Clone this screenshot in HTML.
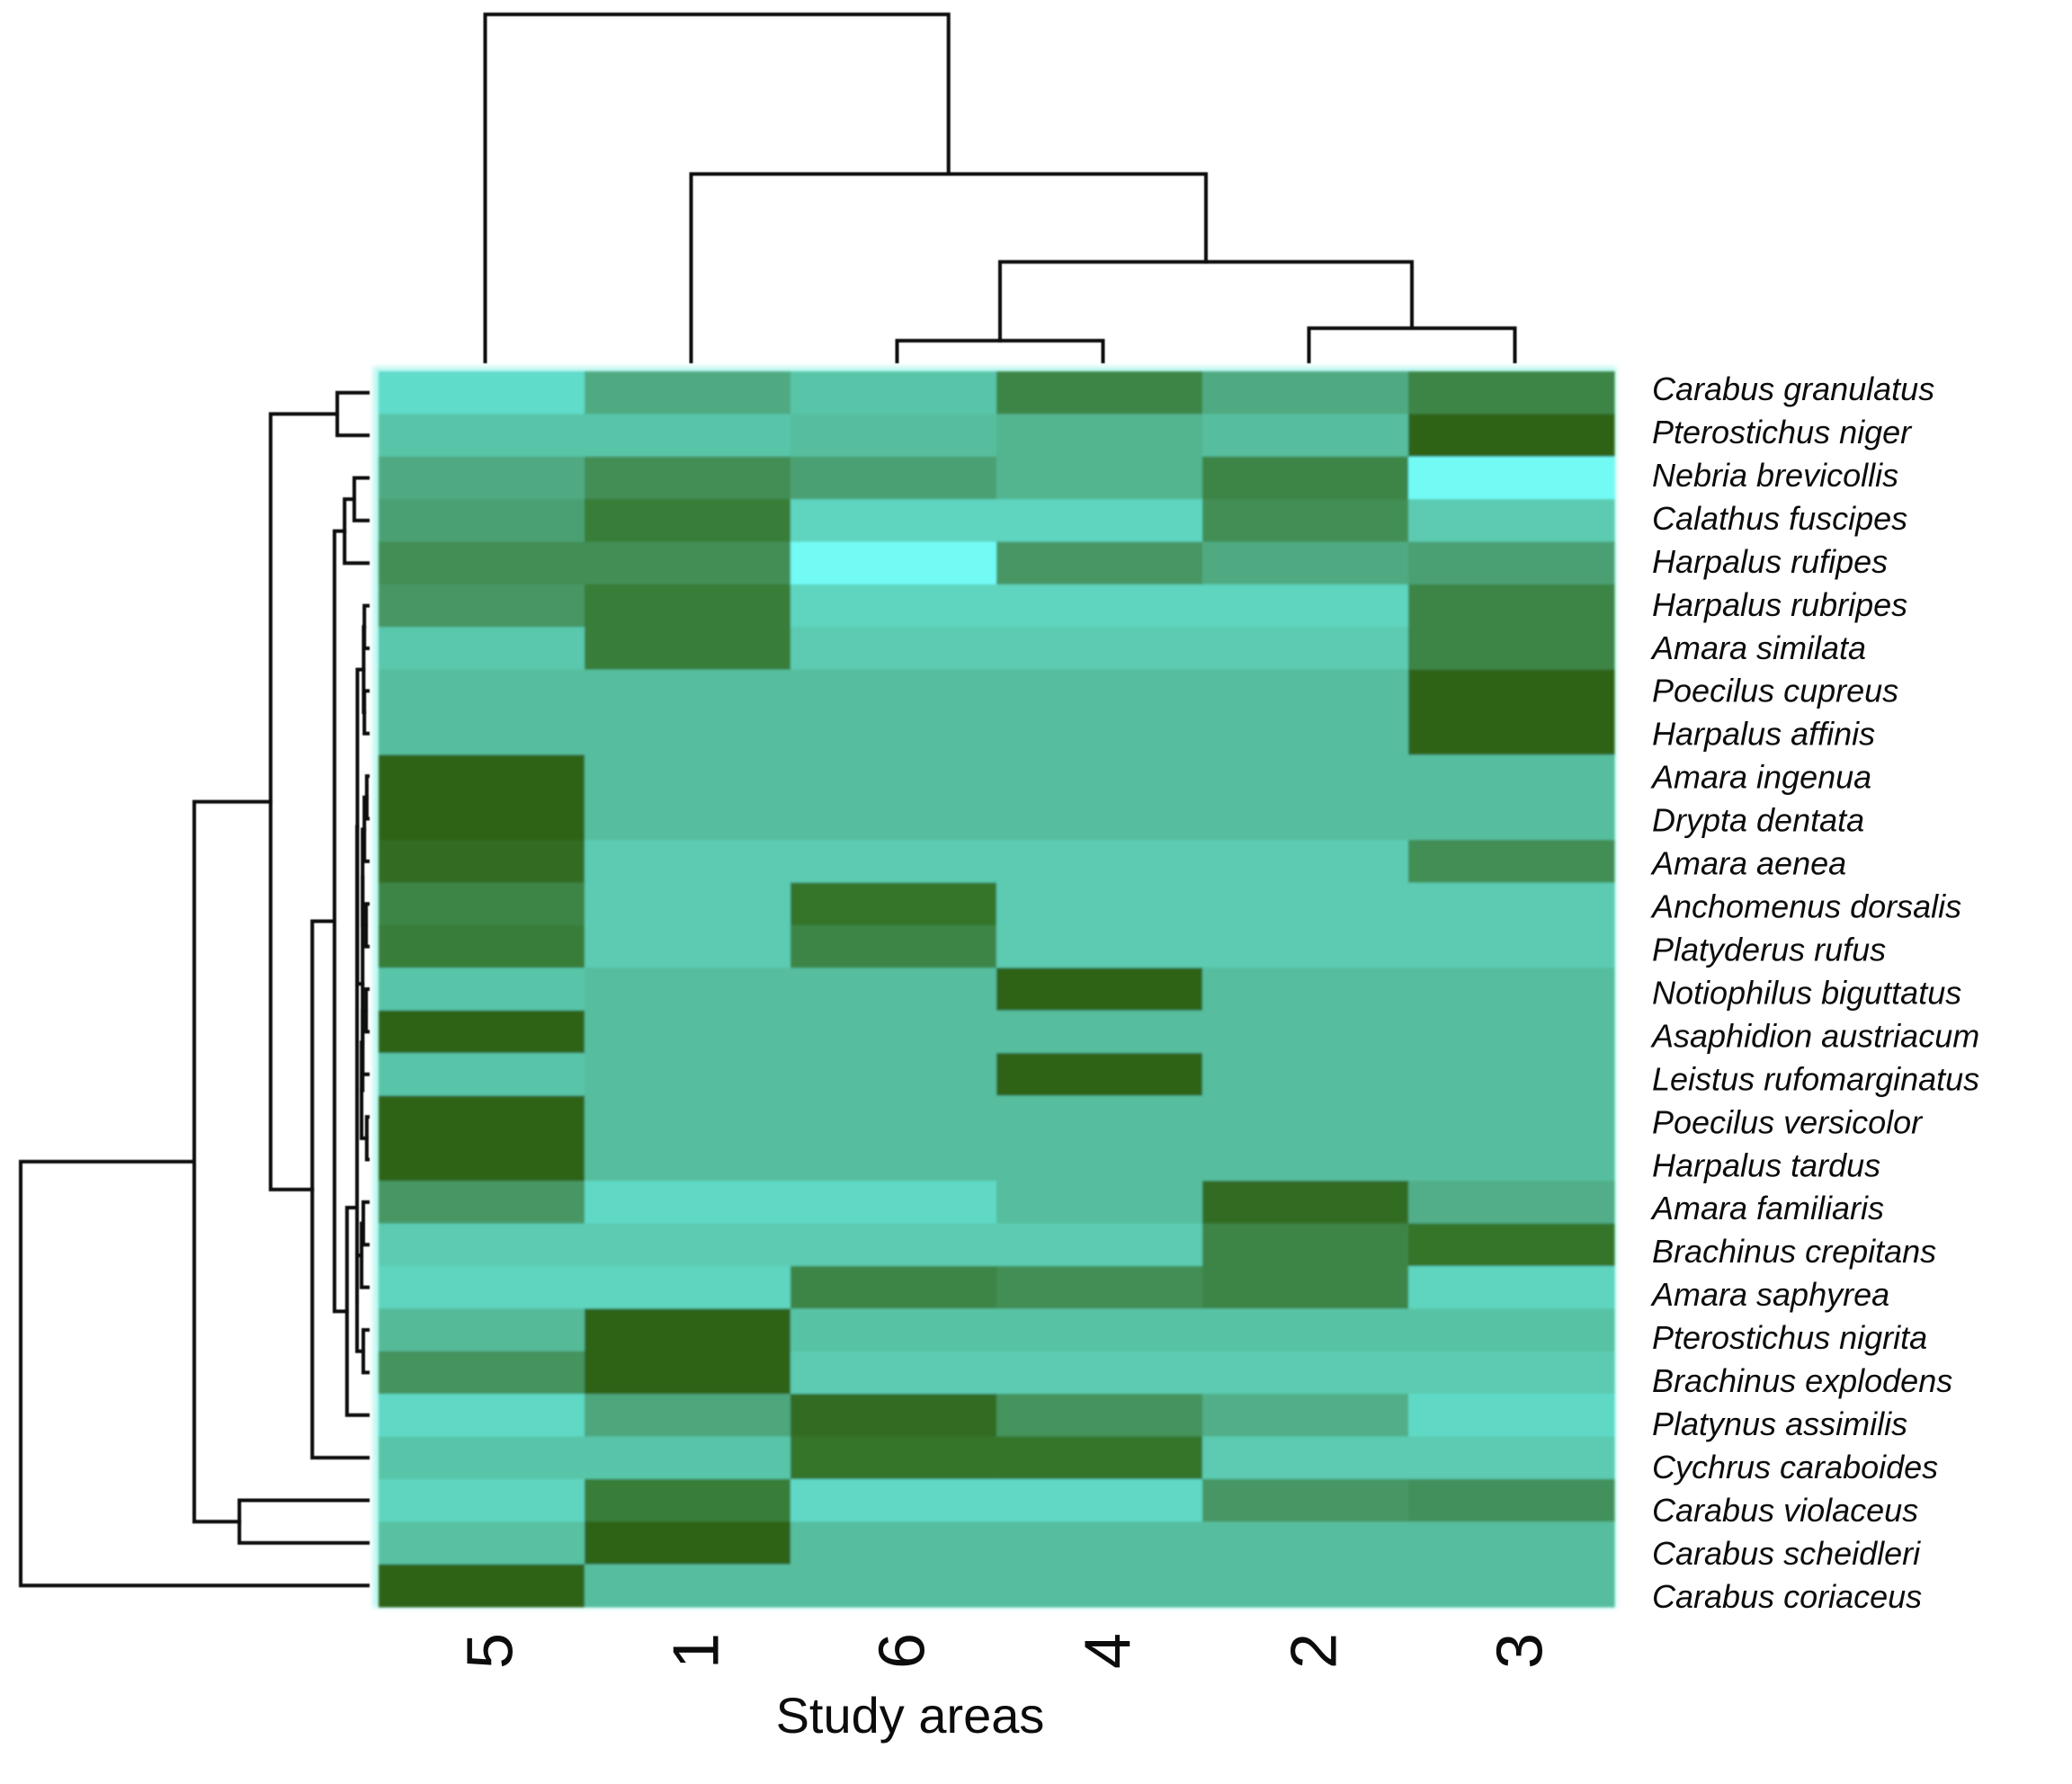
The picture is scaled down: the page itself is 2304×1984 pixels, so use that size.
<!DOCTYPE html>
<html lang="en">
<head>
<meta charset="utf-8">
<title>Carabid species heatmap by study area</title>
<style>
html,body{margin:0;padding:0;background:#fff}
svg{display:block}
text{font-family:"Liberation Sans",sans-serif;fill:#0c0c0c}
</style>
</head>
<body>
<svg id="chart" xmlns="http://www.w3.org/2000/svg" width="2304" height="1984" viewBox="0 0 2304 1984">
<defs>
<filter id="soft" x="-5%" y="-5%" width="110%" height="110%"><feGaussianBlur stdDeviation="1.2"/></filter>
<filter id="glow" x="-5%" y="-5%" width="110%" height="110%"><feGaussianBlur stdDeviation="3"/></filter>
<filter id="softLine" x="-5%" y="-5%" width="110%" height="110%"><feGaussianBlur stdDeviation="0.6"/></filter>
</defs>
<rect width="2304" height="1984" fill="#ffffff"/>
<rect x="415" y="408" width="1382" height="1380" fill="#b8f7f0" filter="url(#glow)"/>
<g id="cells" filter="url(#soft)"></g>
<g id="rowTree" filter="url(#softLine)" fill="none" stroke="#0a0a0a" stroke-width="4" stroke-linecap="square"></g>
<g id="colTree" filter="url(#softLine)" fill="none" stroke="#0a0a0a" stroke-width="4" stroke-linecap="square"></g>
<g id="rowLabels"></g>
<g id="colLabels"></g>
<text x="1012" y="1927" font-size="56" text-anchor="middle">Study areas</text>
</svg>
<script>
const studyAreas = ['5', '1', '6', '4', '2', '3'];
const species = [
  'Carabus granulatus', 'Pterostichus niger', 'Nebria brevicollis', 'Calathus fuscipes',
  'Harpalus rufipes', 'Harpalus rubripes', 'Amara similata', 'Poecilus cupreus',
  'Harpalus affinis', 'Amara ingenua', 'Drypta dentata', 'Amara aenea',
  'Anchomenus dorsalis', 'Platyderus rufus', 'Notiophilus biguttatus', 'Asaphidion austriacum',
  'Leistus rufomarginatus', 'Poecilus versicolor', 'Harpalus tardus', 'Amara familiaris',
  'Brachinus crepitans', 'Amara saphyrea', 'Pterostichus nigrita', 'Brachinus explodens',
  'Platynus assimilis', 'Cychrus caraboides', 'Carabus violaceus', 'Carabus scheidleri',
  'Carabus coriaceus'
];
const abundance = [
  [1.0, 4.0, 2.5, 6.0, 4.0, 6.0],
  [2.5, 2.5, 3.0, 3.5, 3.0, 8.0],
  [4.0, 5.5, 4.5, 3.5, 6.0, 0.0],
  [4.5, 6.5, 1.5, 1.5, 5.5, 2.0],
  [5.5, 5.5, 0.0, 5.0, 4.0, 4.5],
  [5.0, 6.5, 1.5, 1.5, 1.5, 6.0],
  [2.2, 6.5, 2.0, 2.0, 2.0, 6.0],
  [3.0, 3.0, 3.0, 3.0, 3.0, 8.0],
  [3.0, 3.0, 3.0, 3.0, 3.0, 8.0],
  [8.0, 3.0, 3.0, 3.0, 3.0, 3.0],
  [8.0, 3.0, 3.0, 3.0, 3.0, 3.0],
  [7.5, 2.0, 2.0, 2.0, 2.0, 5.5],
  [6.0, 2.0, 7.0, 2.0, 2.0, 2.0],
  [6.5, 2.0, 6.0, 2.0, 2.0, 2.0],
  [2.5, 3.0, 3.0, 8.0, 3.0, 3.0],
  [8.0, 3.0, 3.0, 3.0, 3.0, 3.0],
  [2.5, 3.0, 3.0, 8.0, 3.0, 3.0],
  [8.0, 3.0, 3.0, 3.0, 3.0, 3.0],
  [8.0, 3.0, 3.0, 3.0, 3.0, 3.0],
  [5.0, 1.2, 1.2, 3.0, 7.5, 3.8],
  [2.0, 2.0, 2.0, 2.0, 6.0, 7.0],
  [1.5, 1.5, 6.0, 5.5, 6.0, 1.5],
  [3.2, 8.0, 2.7, 2.7, 2.7, 2.7],
  [5.2, 8.0, 2.0, 2.0, 2.0, 2.0],
  [1.2, 4.2, 7.5, 5.2, 3.8, 1.2],
  [2.5, 2.5, 7.0, 7.0, 2.0, 2.0],
  [1.5, 6.5, 1.2, 1.2, 5.0, 5.3],
  [2.8, 8.0, 3.0, 3.0, 3.0, 3.0],
  [8.0, 3.0, 3.0, 3.0, 3.0, 3.0]
];
/* Merges: [left, right, height]. Non-negative child = leaf index; negative = -(merge index + 1). */
const columnMerges = [
  [2, 3, 6.0],
  [4, 5, 9.6],
  [-1, -2, 28.7],
  [1, -3, 54.0],
  [0, -4, 100]
];
/* Optional 4th item: the row position the stem leaves from. */
const rowMerges = [
  [0, 1, 8.8],
  [2, 3, 3.9],
  [-2, 4, 6.7],
  [5, 6, 1.0],
  [7, 8, 1.0],
  [-4, -5, 1.2],
  [9, 10, 0.3],
  [-7, 11, 1.0],
  [12, 13, 0.5],
  [-8, -9, 1.5],
  [14, 15, 0.5],
  [-11, 16, 1.5],
  [17, 18, 0.3],
  [-12, -13, 1.8],
  [-10, -14, 1.5],
  [-6, -15, 3.0],
  [19, 20, 1.3],
  [-17, 21, 1.8],
  [22, 23, 1.3],
  [-18, -19, 3.1],
  [-16, -20, 3.1, 19.13],
  [-21, 24, 6.0],
  [-3, -22, 9.6],
  [-23, 25, 16.0],
  [-1, -24, 28.0],
  [26, 27, 37.0],
  [-25, -26, 50.0],
  [-27, 28, 100]
];
const colorStops = ['#72FAF5', '#60DCCB', '#5BCBB1', '#57BE9E', '#4FAA82', '#469663', '#3D8547', '#35742A', '#2E6318'];

const SVG_NS = 'http://www.w3.org/2000/svg';
const plot = { left: 421, top: 413, size: 1374 };
const cellW = plot.size / studyAreas.length;
const cellH = plot.size / species.length;
const xCell = i => plot.left + i * cellW;
const yCell = i => plot.top + i * cellH;
const yRowCenter = r => plot.top + (r + 0.5) * cellH;
const xTreeLeaf = i => xCell(i) + cellW / 2 + 4;
const xRowHeight = h => 409 - 3.86 * h;
const yColHeight = h => 402 - 3.86 * h;
const yLabel = i => 445 + i * 47.96;

function hexToRgb(hex) {
  return [1, 3, 5].map(p => parseInt(hex.slice(p, p + 2), 16));
}
function colorScale(v) {
  const t = Math.max(0, Math.min(colorStops.length - 1, v));
  const lo = Math.floor(t);
  const hi = Math.min(colorStops.length - 1, lo + 1);
  const a = hexToRgb(colorStops[lo]);
  const b = hexToRgb(colorStops[hi]);
  const c = a.map((x, k) => Math.round(x + (b[k] - x) * (t - lo)));
  return 'rgb(' + c.join(',') + ')';
}

const cellsGroup = document.getElementById('cells');
abundance.forEach((row, r) => {
  row.forEach((v, c) => {
    const el = document.createElementNS(SVG_NS, 'rect');
    
    
    el.setAttribute('x', xCell(c));
    el.setAttribute('y', yCell(r));
    el.setAttribute('width', cellW + 0.5);
    el.setAttribute('height', cellH + 0.5);
    el.setAttribute('fill', colorScale(v));
    cellsGroup.appendChild(el);
  });
});

function layoutMerges(merges, leafPos) {
  const pos = [];
  const segments = [];
  const childInfo = ref => ref >= 0
    ? { p: leafPos(ref), h: 0 }
    : { p: pos[-ref - 1], h: merges[-ref - 1][2] };
  merges.forEach((m, i) => {
    const a = childInfo(m[0]);
    const b = childInfo(m[1]);
    pos[i] = m.length > 3 ? leafPos(m[3]) : (a.p + b.p) / 2;
    segments.push({ a: a, b: b, h: m[2] });
  });
  return segments;
}

const rowTree = document.getElementById('rowTree');
layoutMerges(rowMerges, r => r).forEach((s, i) => {
  const xh = xRowHeight(s.h);
  const path = document.createElementNS(SVG_NS, 'path');
  
  
  path.setAttribute('d',
    'M' + xRowHeight(s.a.h) + ' ' + yRowCenter(s.a.p) +
    'H' + xh + 'V' + yRowCenter(s.b.p) + 'H' + xRowHeight(s.b.h));
  rowTree.appendChild(path);
});

const colTree = document.getElementById('colTree');
layoutMerges(columnMerges, c => c).forEach((s, i) => {
  const yh = yColHeight(s.h);
  const path = document.createElementNS(SVG_NS, 'path');
  
  
  path.setAttribute('d',
    'M' + xTreeLeaf(s.a.p) + ' ' + yColHeight(s.a.h) +
    'V' + yh + 'H' + xTreeLeaf(s.b.p) + 'V' + yColHeight(s.b.h));
  colTree.appendChild(path);
});

const rowLabels = document.getElementById('rowLabels');
species.forEach((name, i) => {
  const t = document.createElementNS(SVG_NS, 'text');
  
  
  t.setAttribute('x', 1837);
  t.setAttribute('y', yLabel(i));
  t.setAttribute('font-size', 36);
  t.setAttribute('font-style', 'italic');
  t.textContent = name;
  rowLabels.appendChild(t);
});

const colLabels = document.getElementById('colLabels');
studyAreas.forEach((name, i) => {
  const t = document.createElementNS(SVG_NS, 'text');
  
  
  const cx = xCell(i) + cellW / 2 + 10;
  t.setAttribute('transform', 'translate(' + cx + ',1836) rotate(-90)');
  t.setAttribute('font-size', 72);
  t.setAttribute('text-anchor', 'middle');
  t.setAttribute('dominant-baseline', 'central');
  t.textContent = name;
  colLabels.appendChild(t);
});
</script>
</body>
</html>
